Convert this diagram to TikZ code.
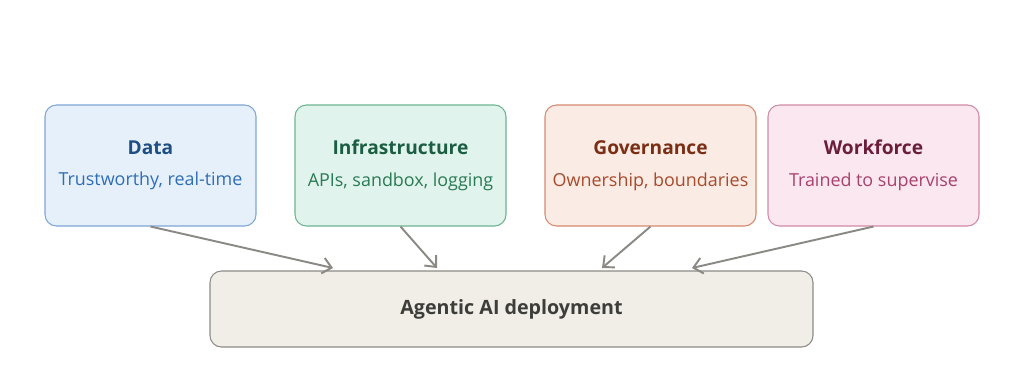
\documentclass[tikz,border=0pt]{standalone}
\usepackage{fontspec}
\setmainfont{Open Sans}
\usepackage{xcolor}
\usetikzlibrary{arrows.meta}

\definecolor{dataFill}{HTML}{E6F0FB}
\definecolor{dataLine}{HTML}{7FA6D6}
\definecolor{dataHead}{HTML}{1F4E85}
\definecolor{dataSub}{HTML}{2F6DB5}
\definecolor{infraFill}{HTML}{E0F3EC}
\definecolor{infraLine}{HTML}{6DB391}
\definecolor{infraHead}{HTML}{1B5E42}
\definecolor{infraSub}{HTML}{2A7A55}
\definecolor{govFill}{HTML}{FAEBE5}
\definecolor{govLine}{HTML}{D58A6E}
\definecolor{govHead}{HTML}{7A2E14}
\definecolor{govSub}{HTML}{A84A2A}
\definecolor{workFill}{HTML}{FBE7EF}
\definecolor{workLine}{HTML}{D08AA6}
\definecolor{workHead}{HTML}{6B1E3A}
\definecolor{workSub}{HTML}{A8406C}
\definecolor{baseFill}{HTML}{F1EEE8}
\definecolor{baseLine}{HTML}{8D8B86}
\definecolor{baseText}{HTML}{3D3D3A}
\definecolor{arrowGray}{HTML}{8A8984}

\begin{document}
\begin{tikzpicture}[x=0.02cm, y=-0.02cm,
  pillar/.style={draw, line width=0.6pt, rounded corners=6.5pt,
    minimum width=211*0.02cm, minimum height=121*0.02cm, align=center},
  base/.style={draw=baseLine, fill=baseFill, line width=0.6pt, rounded corners=6.5pt,
    minimum width=603*0.02cm, minimum height=76*0.02cm, text=baseText,
    font=\fontsize{11.2}{13}\selectfont\bfseries},
  feed/.style={draw=arrowGray, line width=1.1pt,
    -{Straight Barb[length=5pt, width=9pt, line width=1.1pt]}}]
  \useasboundingbox (0,0) rectangle (1024,392);

  % Data
  \node[pillar, draw=dataLine, fill=dataFill] (data) at (150.5,165.5)
    {\textcolor{dataHead}{\bfseries\fontsize{10.9}{13}\selectfont Data}\\[6pt]
     \textcolor{dataSub}{\fontsize{10.2}{12}\selectfont Trustworthy, real-time}};

  % Infrastructure
  \node[pillar, draw=infraLine, fill=infraFill] (infra) at (400.5,165.5)
    {\textcolor{infraHead}{\bfseries\fontsize{10.9}{13}\selectfont Infrastructure}\\[6pt]
     \textcolor{infraSub}{\fontsize{10.2}{12}\selectfont APIs, sandbox, logging}};

  % Governance
  \node[pillar, draw=govLine, fill=govFill] (gov) at (650.5,165.5)
    {\textcolor{govHead}{\bfseries\fontsize{10.9}{13}\selectfont Governance}\\[6pt]
     \textcolor{govSub}{\fontsize{10.2}{12}\selectfont Ownership, boundaries}};

  % Workforce
  \node[pillar, draw=workLine, fill=workFill] (work) at (873.5,165.5)
    {\textcolor{workHead}{\bfseries\fontsize{10.9}{13}\selectfont Workforce}\\[6pt]
     \textcolor{workSub}{\fontsize{10.2}{12}\selectfont Trained to supervise}};

  % Deployment
  \node[base] (deploy) at (511.5,309) {Agentic AI deployment};

  % Entry points
  \coordinate (in1) at (333,268);
  \coordinate (in2) at (437,268);
  \coordinate (in3) at (602,268);
  \coordinate (in4) at (692,268);

  % Arrows
  \draw[feed] (data.south) -- (in1);
  \draw[feed] (infra.south) -- (in2);
  \draw[feed] (gov.south) -- (in3);
  \draw[feed] (work.south) -- (in4);
\end{tikzpicture}
\end{document}
